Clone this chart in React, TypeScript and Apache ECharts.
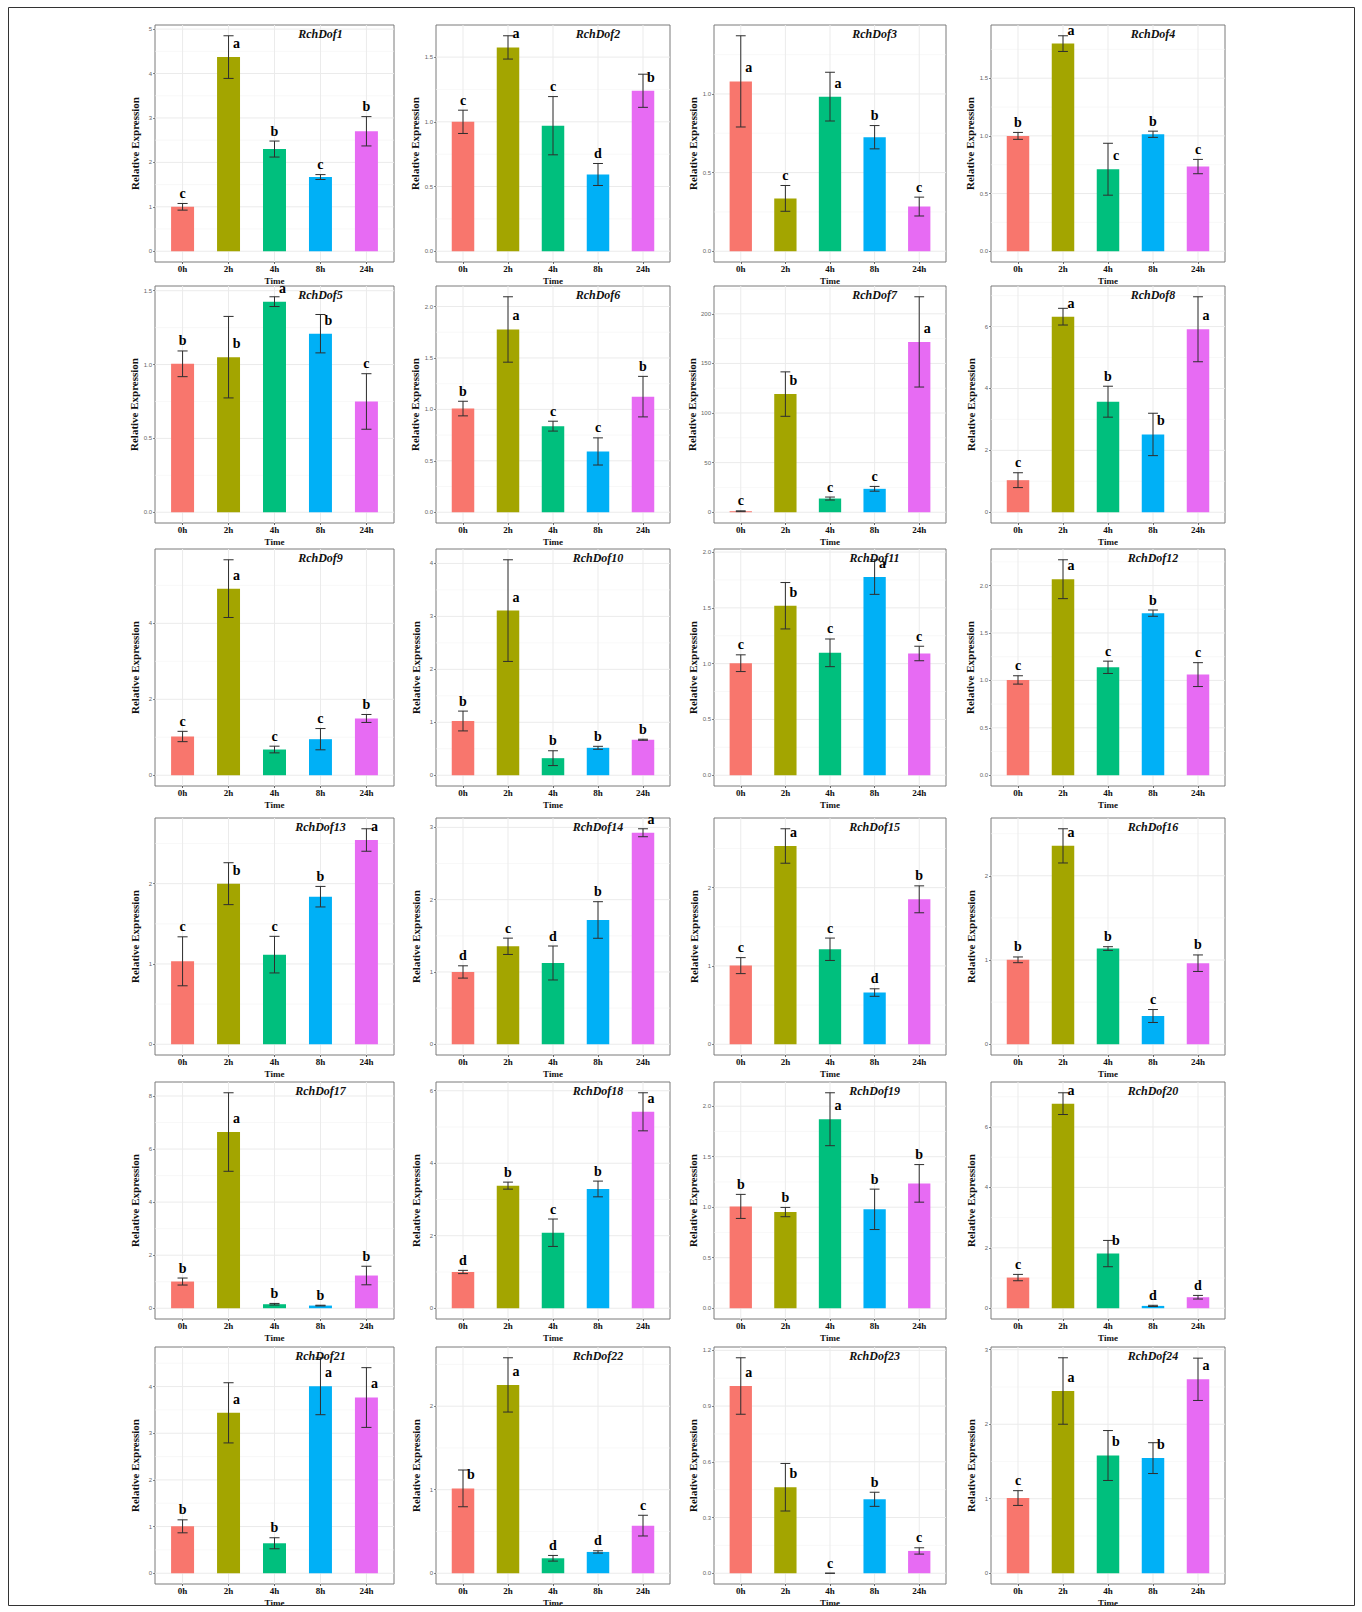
import React, { useEffect, useRef } from "react";
import * as echarts from "echarts";

const CATEGORIES = ["0h", "2h", "4h", "8h", "24h"];
const BAR_COLORS = ["#F8766D", "#A3A500", "#00BF7D", "#00B0F6", "#E76BF3"];

const GENES = [
  "RchDof1", "RchDof2", "RchDof3", "RchDof4",
  "RchDof5", "RchDof6", "RchDof7", "RchDof8",
  "RchDof9", "RchDof10", "RchDof11", "RchDof12",
  "RchDof13", "RchDof14", "RchDof15", "RchDof16",
  "RchDof17", "RchDof18", "RchDof19", "RchDof20",
  "RchDof21", "RchDof22", "RchDof23", "RchDof24",
];

const MEANS = [
  [1.0, 4.37, 2.3, 1.67, 2.7],
  [1.0, 1.575, 0.97, 0.593, 1.24],
  [1.08, 0.336, 0.983, 0.725, 0.284],
  [1.0, 1.8, 0.711, 1.014, 0.734],
  [1.005, 1.05, 1.426, 1.209, 0.75],
  [1.008, 1.777, 0.837, 0.591, 1.124],
  [1.0, 119.1, 13.8, 23.6, 171.7],
  [1.036, 6.32, 3.572, 2.514, 5.913],
  [1.02, 4.914, 0.677, 0.949, 1.495],
  [1.024, 3.109, 0.322, 0.518, 0.67],
  [1.004, 1.519, 1.097, 1.776, 1.091],
  [1.005, 2.067, 1.138, 1.709, 1.061],
  [1.033, 2.0, 1.116, 1.838, 2.544],
  [1.0, 1.355, 1.124, 1.719, 2.926],
  [1.004, 2.532, 1.213, 0.66, 1.851],
  [1.002, 2.355, 1.136, 0.335, 0.962],
  [1.006, 6.642, 0.151, 0.1, 1.233],
  [1.0, 3.382, 2.083, 3.29, 5.419],
  [1.008, 0.952, 1.871, 0.979, 1.236],
  [1.015, 6.772, 1.809, 0.077, 0.364],
  [1.005, 3.437, 0.642, 4.007, 3.765],
  [1.016, 2.255, 0.179, 0.255, 0.57],
  [1.008, 0.463, 0.0, 0.398, 0.12],
  [1.009, 2.446, 1.58, 1.545, 2.603],
];

const ERRORS = [
  [0.075, 0.48, 0.18, 0.055, 0.33],
  [0.09, 0.09, 0.225, 0.085, 0.128],
  [0.29, 0.082, 0.155, 0.074, 0.06],
  [0.03, 0.068, 0.225, 0.027, 0.062],
  [0.087, 0.276, 0.033, 0.13, 0.188],
  [0.071, 0.318, 0.048, 0.132, 0.197],
  [0.4, 22.4, 1.5, 2.4, 45.5],
  [0.24, 0.27, 0.5, 0.685, 1.05],
  [0.136, 0.76, 0.088, 0.28, 0.105],
  [0.187, 0.96, 0.14, 0.028, 0.01],
  [0.075, 0.208, 0.124, 0.155, 0.065],
  [0.044, 0.205, 0.065, 0.033, 0.126],
  [0.305, 0.261, 0.228, 0.128, 0.14],
  [0.085, 0.113, 0.235, 0.253, 0.055],
  [0.102, 0.22, 0.143, 0.048, 0.172],
  [0.034, 0.203, 0.022, 0.077, 0.098],
  [0.132, 1.48, 0.03, 0.013, 0.35],
  [0.045, 0.097, 0.378, 0.217, 0.525],
  [0.119, 0.046, 0.262, 0.2, 0.186],
  [0.105, 0.36, 0.435, 0.02, 0.06],
  [0.139, 0.645, 0.118, 0.61, 0.64],
  [0.22, 0.325, 0.034, 0.014, 0.124],
  [0.152, 0.128, 0.0, 0.038, 0.017],
  [0.099, 0.446, 0.335, 0.207, 0.284],
];

const LETTERS = [
  ["c", "a", "b", "c", "b"],
  ["c", "a", "c", "d", "b"],
  ["a", "c", "a", "b", "c"],
  ["b", "a", "c", "b", "c"],
  ["b", "b", "a", "b", "c"],
  ["b", "a", "c", "c", "b"],
  ["c", "b", "c", "c", "a"],
  ["c", "a", "b", "b", "a"],
  ["c", "a", "c", "c", "b"],
  ["b", "a", "b", "b", "b"],
  ["c", "b", "c", "a", "c"],
  ["c", "a", "c", "b", "c"],
  ["c", "b", "c", "b", "a"],
  ["d", "c", "d", "b", "a"],
  ["c", "a", "c", "d", "b"],
  ["b", "a", "b", "c", "b"],
  ["b", "a", "b", "b", "b"],
  ["d", "b", "c", "b", "a"],
  ["b", "b", "a", "b", "b"],
  ["c", "a", "b", "d", "d"],
  ["b", "a", "b", "a", "a"],
  ["b", "a", "d", "d", "c"],
  ["a", "b", "c", "b", "c"],
  ["c", "a", "b", "b", "a"],
];

// "t" = letter above the error bar, "r" = letter beside the bar (right)
const LETTER_SIDES = [
  ["t", "r", "t", "t", "t"],
  ["t", "r", "t", "t", "r"],
  ["r", "t", "r", "t", "t"],
  ["t", "r", "r", "t", "t"],
  ["t", "r", "r", "r", "t"],
  ["t", "r", "t", "t", "t"],
  ["t", "r", "t", "t", "r"],
  ["t", "r", "t", "r", "r"],
  ["t", "r", "t", "t", "t"],
  ["t", "r", "t", "t", "t"],
  ["t", "r", "t", "r", "t"],
  ["t", "r", "t", "t", "t"],
  ["t", "r", "t", "t", "r"],
  ["t", "t", "t", "t", "r"],
  ["t", "r", "t", "t", "t"],
  ["t", "r", "t", "t", "t"],
  ["t", "r", "t", "t", "t"],
  ["t", "t", "t", "t", "r"],
  ["t", "t", "r", "t", "t"],
  ["t", "r", "r", "t", "t"],
  ["t", "r", "t", "r", "r"],
  ["r", "r", "t", "t", "t"],
  ["r", "r", "t", "t", "t"],
  ["t", "r", "r", "r", "r"],
];

const Y_TICKS = [
  ["0", "1", "2", "3", "4", "5"],
  ["0.0", "0.5", "1.0", "1.5"],
  ["0.0", "0.5", "1.0"],
  ["0.0", "0.5", "1.0", "1.5"],
  ["0.0", "0.5", "1.0", "1.5"],
  ["0.0", "0.5", "1.0", "1.5", "2.0"],
  ["0", "50", "100", "150", "200"],
  ["0", "2", "4", "6"],
  ["0", "2", "4"],
  ["0", "1", "2", "3", "4"],
  ["0.0", "0.5", "1.0", "1.5", "2.0"],
  ["0.0", "0.5", "1.0", "1.5", "2.0"],
  ["0", "1", "2"],
  ["0", "1", "2", "3"],
  ["0", "1", "2"],
  ["0", "1", "2"],
  ["0", "2", "4", "6", "8"],
  ["0", "2", "4", "6"],
  ["0.0", "0.5", "1.0", "1.5", "2.0"],
  ["0", "2", "4", "6"],
  ["0", "1", "2", "3", "4"],
  ["0", "1", "2"],
  ["0.0", "0.3", "0.6", "0.9", "1.2"],
  ["0", "1", "2", "3"],
];

// Layout (pixels)
const COL_LEFT = [155, 436, 714, 991];
const COL_WIDTH = [239, 234, 232, 234];
const ROW_TOP = [25, 286, 549, 818, 1082, 1347];
const PANEL_HEIGHT = 237;

const SERIF = '"Liberation Serif", "Times New Roman", serif';
const SANS = '"Liberation Sans", Arial, sans-serif';
const X_MIN = 0.4;
const X_MAX = 5.6;
const CAP_WIDTH = 0.22;

function buildOption() {
  const grids: any[] = [];
  const xAxes: any[] = [];
  const yAxes: any[] = [];
  const series: any[] = [];
  const graphics: any[] = [];

  GENES.forEach((gene, i) => {
    const r = Math.floor(i / 4);
    const c = i % 4;
    const left = COL_LEFT[c];
    const top = ROW_TOP[r];
    const width = COL_WIDTH[c];
    const height = PANEL_HEIGHT;
    const means = MEANS[i];
    const errs = ERRORS[i];
    const tickLabels = Y_TICKS[i];
    const tickVals = tickLabels.map(Number);
    const maxTop = Math.max(...means.map((m, k) => m + errs[k]));
    const yMax = maxTop * 1.05;
    const yMin = -0.05 * maxTop;
    const xVals = CATEGORIES.map((_, k) => k + 1);

    grids.push({
      left,
      top,
      width,
      height,
      show: true,
      borderColor: "#7a7a7a",
      borderWidth: 1,
      backgroundColor: "transparent",
      containLabel: false,
      outerBoundsMode: "none",
    });

    xAxes.push({
      gridIndex: i,
      type: "value",
      min: X_MIN,
      max: X_MAX,
      axisLine: { show: false, onZero: false },
      axisTick: {
        show: true,
        customValues: xVals,
        length: 2,
        lineStyle: { color: "#444", width: 0.8 },
      },
      axisLabel: {
        customValues: xVals,
        formatter: (v: number) => CATEGORIES[Math.round(v) - 1] ?? "",
        fontFamily: SERIF,
        fontWeight: "bold",
        fontSize: 9,
        lineHeight: 9,
        color: "#111",
        margin: 2,
      },
      splitLine: { show: false },
      name: "Time",
      nameLocation: "middle",
      nameGap: 14,
      nameTextStyle: { fontFamily: SERIF, fontWeight: "bold", fontSize: 9, lineHeight: 9, color: "#111" },
    });

    yAxes.push({
      gridIndex: i,
      type: "value",
      min: yMin,
      max: yMax,
      axisLine: { show: false, onZero: false },
      axisTick: {
        show: true,
        customValues: tickVals,
        length: 2,
        lineStyle: { color: "#666", width: 0.8 },
      },
      axisLabel: {
        customValues: tickVals,
        formatter: (v: number) => {
          const idx = tickVals.findIndex((t) => Math.abs(t - v) < 1e-9);
          return idx >= 0 ? tickLabels[idx] : "";
        },
        fontFamily: SANS,
        fontSize: 6,
        color: "#666",
        margin: 3,
      },
      splitLine: { show: false },
      name: "Relative Expression",
      nameLocation: "middle",
      nameGap: 15,
      nameTextStyle: { fontFamily: SERIF, fontWeight: "bold", fontSize: 11, lineHeight: 11, color: "#111" },
    });

    // grid lines: major/minor horizontal, major vertical
    const step = tickVals[1] - tickVals[0];
    const lines: number[][] = [];
    tickVals.forEach((v) => lines.push([1, v, 0]));
    tickVals.forEach((v) => {
      const m = v + step / 2;
      if (m < yMax) lines.push([1, m, 1]);
    });
    xVals.forEach((x) => lines.push([x, 0, 2]));

    series.push({
      type: "custom",
      xAxisIndex: i,
      yAxisIndex: i,
      silent: true,
      z: 1,
      encode: { x: 0, y: 1 },
      data: lines,
      renderItem: (params: any, api: any) => {
        const cs = params.coordSys;
        const kind = api.value(2);
        if (kind === 2) {
          const px = api.coord([api.value(0), 0])[0];
          return {
            type: "line",
            shape: { x1: px, y1: cs.y, x2: px, y2: cs.y + cs.height },
            style: { stroke: "#ebebeb", lineWidth: 1 },
          };
        }
        const py = api.coord([1, api.value(1)])[1];
        return {
          type: "line",
          shape: { x1: cs.x, y1: py, x2: cs.x + cs.width, y2: py },
          style: { stroke: kind === 0 ? "#ebebeb" : "#f3f3f3", lineWidth: kind === 0 ? 1 : 0.6 },
        };
      },
    });

    series.push({
      type: "bar",
      xAxisIndex: i,
      yAxisIndex: i,
      silent: true,
      z: 2,
      barWidth: (width * 0.5) / (X_MAX - X_MIN),
      data: means.map((m, k) => ({
        value: [k + 1, m],
        itemStyle: { color: BAR_COLORS[k] },
      })),
    });

    const letters = LETTERS[i];
    const sides = LETTER_SIDES[i];
    series.push({
      type: "custom",
      xAxisIndex: i,
      yAxisIndex: i,
      silent: true,
      z: 3,
      encode: { x: 0, y: [1, 2] },
      data: means.map((m, k) => [k + 1, m - errs[k], m + errs[k], m]),
      renderItem: (params: any, api: any) => {
        const k = params.dataIndex;
        const x = api.value(0);
        const lo = api.value(1);
        const hi = api.value(2);
        const m = api.value(3);
        const pTop = api.coord([x, hi]);
        const pBot = api.coord([x, lo]);
        const half = api.size([CAP_WIDTH, 0])[0] / 2;
        const ls = { stroke: "#2e2e2e", lineWidth: 1 };
        let tx: number;
        let ty: number;
        if (sides[k] === "r") {
          tx = pTop[0] + 8;
          ty = api.coord([x, m + 0.06 * yMax])[1];
        } else {
          tx = pTop[0];
          ty = pTop[1] - 10;
        }
        return {
          type: "group",
          children: [
            { type: "line", shape: { x1: pTop[0], y1: pTop[1], x2: pBot[0], y2: pBot[1] }, style: ls },
            { type: "line", shape: { x1: pTop[0] - half, y1: pTop[1], x2: pTop[0] + half, y2: pTop[1] }, style: ls },
            { type: "line", shape: { x1: pBot[0] - half, y1: pBot[1], x2: pBot[0] + half, y2: pBot[1] }, style: ls },
            {
              type: "text",
              x: tx,
              y: ty,
              style: {
                text: letters[k],
                fill: "#000",
                font: `bold 14px ${SERIF}`,
                align: "center",
                verticalAlign: "middle",
              },
            },
          ],
        };
      },
    });

    graphics.push({
      type: "text",
      x: left + ((4 - X_MIN) / (X_MAX - X_MIN)) * width,
      y: top + 9,
      z: 10,
      style: {
        text: gene,
        fill: "#111",
        font: `italic bold 12px ${SERIF}`,
        align: "center",
        verticalAlign: "middle",
      },
    });
  });

  graphics.push({
    type: "rect",
    z: 10,
    shape: { x: 8.5, y: 7.5, width: 1346, height: 1598 },
    style: { fill: "none", stroke: "#333", lineWidth: 1 },
  });

  return {
    animation: false,
    backgroundColor: "#ffffff",
    grid: grids,
    xAxis: xAxes,
    yAxis: yAxes,
    series,
    graphic: graphics,
  };
}

export default function App() {
  const ref = useRef<HTMLDivElement>(null);
  useEffect(() => {
    if (!ref.current) return;
    const chart = echarts.init(ref.current, null, { renderer: "svg" });
    chart.setOption(buildOption() as any);
    return () => {
      chart.dispose();
    };
  }, []);
  return (
    <div
      ref={ref}
      style={{ position: "absolute", left: 0, top: 0, width: 1362, height: 1612, background: "#fff" }}
    />
  );
}
